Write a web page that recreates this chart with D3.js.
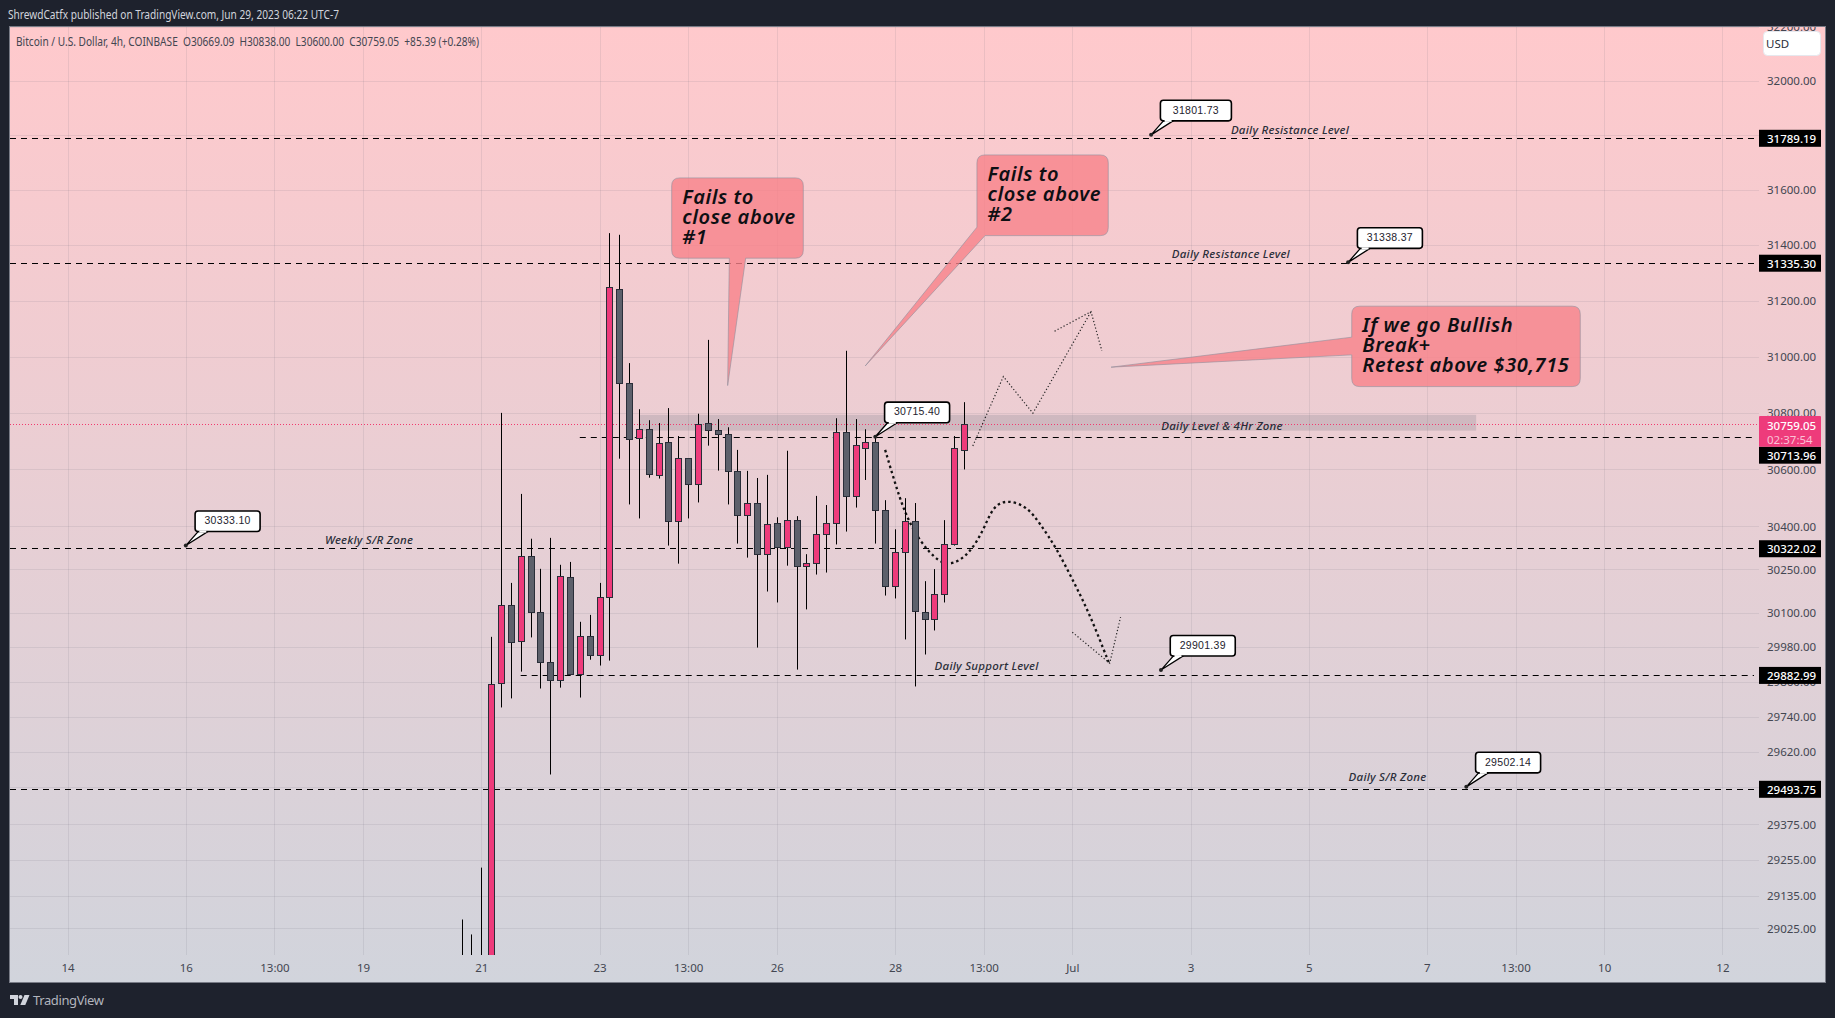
<!DOCTYPE html>
<html><head><meta charset="utf-8">
<script src="https://cdnjs.cloudflare.com/ajax/libs/d3/7.8.5/d3.min.js"></script>
<style>html,body{margin:0;padding:0;background:#1e222d;overflow:hidden}svg{display:block}</style>
</head><body><svg id="c" width="1835" height="1018"></svg>
<script>
const FONT = '"Noto Sans", sans-serif';
const opens  = [28700,28720,28700,28710,29856,30126,30001,30296,30101,29929,29867,30223,29887,30018,29953,30153,31242,30906,30710,30742,30580,30696,30418,30640,30548,30764,30739,30725,30594,30439,30482,30303,30411,30328,30422,30261,30272,30373,30411,30732,30506,30675,30696,30457,30192,30310,30418,30101,30077,30164,30338,30669.09];
const highs  = [29055,29005,29229,30016,30800,30203,30514,30357,30252,30360,30266,30276,30068,30092,30203,31444,31438,30977,30813,30774,30764,30817,30718,30640,30797,31060,30778,30749,30669,30595,30570,30581,30432,30666,30436,30303,30507,30475,30781,31021,30778,30742,30715.40,30492,30390,30499,30482,30209,30251,30422,30718,30838];
const lows   = [28650,28650,28650,28650,29773,29804,29896,30014,29838,29544,29841,29884,29807,29937,29917,29934,30638,30477,30428,30571,30568,30333,30270,30428,30484,30684,30596,30477,30340,30291,29979,30173,30135,30263,29903,30111,30232,30239,30337,30382,30466,30563,30340,30159,30149,30007,29845,29955,30038,30135,30333,30600];
const closes = [28720,28700,28710,29853,30126,29998,30296,30101,29929,29867,30226,29887,30018,29953,30153,31249,30906,30707,30742,30584,30693,30418,30640,30548,30760,30739,30725,30594,30439,30482,30303,30408,30328,30422,30261,30272,30373,30411,30732,30506,30686,30696,30457,30192,30310,30418,30105,30077,30164,30338,30675,30759.05];
const firstBar = -2;

const priceTicks = [32200,32000,31800,31600,31400,31200,31000,30800,30600,30400,30250,30100,29980,29860,29740,29620,29500,29375,29255,29135,29025];
const hiddenTickLabels = [31800,29500];
const timeTickBars = [-42,-30,-21,-12,0,12,21,30,42,51,60,72,84,96,105,114,126];
const timeTickLabels = ["14","16","13:00","19","21","23","13:00","26","28","13:00","Jul","3","5","7","13:00","10","12"];

const levelPrices = [31789.19,31335.30,30713.96,30322.02,29882.99,29493.75];
const levelStartBars = [null,null,10,null,4,null];
const levelTagShift = [0,0,18,0,0,0];

const levelTexts = ["Daily Resistance Level","Daily Resistance Level","Daily Level & 4Hr Zone","Weekly S/R Zone","Daily Support Level","Daily S/R Zone"];
const levelTextBars = [82.1,76.1,75.2,-11.4,51.3,92];
const levelTextPrices = [31823,31369,30754,30355,29916,29536];

const markerPrices = [31801.73,31338.37,30715.40,30333.10,29901.39,29502.14];
const markerBars = [68,88,40,-30,69,100];
const markerWidths = [71,65,65,65,65,65];

const zoneBars = [16,101];
const zonePrices = [30793,30737];
const lastPrice = 30759.05;
const countdown = "02:37:54";

const curveBars   = [41,42,43,44.5,46.5,47.9,49.6,51,52,53.5,55.4,56.7,58.4,60.3,61.8,63.8];
const curvePrices = [30669,30552,30446,30347,30272,30266,30306,30388,30475,30493,30470,30411,30324,30196,30092,29919];
const headDownBars   = [60,63.8,64.9];
const headDownPrices = [30032,29925,30084];
const zigzagBars   = [49.9,53,56,61.9];
const zigzagPrices = [30683,30929,30799,31161];
const headUpBars   = [58.2,61.9,63];
const headUpPrices = [31091,31161,31021];

const calloutLines = [["Fails to","close above","#1"],["Fails to","close above","#2"],["If we go Bullish","Break+","Retest above $30,715"]];
const calloutBoxBars = [[19.33,32.69],[50.32,63.65],[88.37,111.57]];
const calloutBoxPrices = [[31644.6,31353.4],[31728.4,31435],[31180.7,30893.4]];
const calloutTipBars = [25.01,38.98,63.93];
const calloutTipPrices = [30897,30967,30962.5];
const calloutBaseBars = [[25.18,26.84],[50.32,51.14],[88.37,88.37]];
const calloutBasePrices = [[31353.4,31353.4],[31465.6,31435],[31069.6,31006.4]];

const W=1835,H=1018,L=10,R=1825,T=27,B=982,PB=955,AX=1759;
const x = d3.scaleLinear().domain([0,100]).range([481.3,1466.3]);
const y = d3.scaleLog().domain([31789.19,29493.75]).range([138.3,789.3]);
const px = k => Math.round(x(k))+0.5;
const py = p => Math.round(y(p))+0.5;
const ly = p => Math.floor(y(p))+0.5;

const svg = d3.select("#c").attr("font-family",FONT);
const defs = svg.append("defs");
const g = defs.append("linearGradient").attr("id","bg").attr("x1",0).attr("y1",0).attr("x2",0).attr("y2",1);
g.append("stop").attr("offset","0%").attr("stop-color","#ffc9cc");
g.append("stop").attr("offset","100%").attr("stop-color","#d1d4dc");
defs.append("clipPath").attr("id","frame").append("rect").attr("x",L).attr("y",T).attr("width",R-L).attr("height",B-T);
defs.append("clipPath").attr("id","pane").append("rect").attr("x",L).attr("y",T).attr("width",R-L).attr("height",PB-T);

svg.append("rect").attr("width",W).attr("height",H).attr("fill","#1e222d");
svg.append("rect").attr("x",L-0.5).attr("y",T-0.5).attr("width",R-L+1).attr("height",B-T+1).attr("fill","url(#bg)").attr("stroke","#787b86");

const pane = svg.append("g").attr("clip-path","url(#pane)");
const chart = svg.append("g").attr("clip-path","url(#frame)");

// grid
pane.append("g").selectAll("line").data(priceTicks).join("line")
  .attr("x1",L).attr("x2",AX).attr("y1",py).attr("y2",py)
  .attr("stroke","#6a6d7d").attr("stroke-opacity",0.13);
pane.append("g").selectAll("line").data(timeTickBars).join("line")
  .attr("x1",px).attr("x2",px).attr("y1",T).attr("y2",PB)
  .attr("stroke","#6a6d7d").attr("stroke-opacity",0.13);

// zone
pane.append("rect").attr("x",x(zoneBars[0])).attr("width",x(zoneBars[1])-x(zoneBars[0]))
  .attr("y",y(zonePrices[0])).attr("height",y(zonePrices[1])-y(zonePrices[0]))
  .attr("fill","#787b86").attr("fill-opacity",0.25);

// levels
levelPrices.forEach((p,i)=>{
  pane.append("line").attr("x1",levelStartBars[i]===null?L:x(levelStartBars[i])).attr("x2",1754)
    .attr("y1",ly(p)).attr("y2",ly(p)).attr("stroke","#000").attr("stroke-width",1).attr("stroke-dasharray","6 5");
});
// last price
pane.append("line").attr("x1",L).attr("x2",AX).attr("y1",py(lastPrice)).attr("y2",py(lastPrice))
  .attr("stroke","#f23a6f").attr("stroke-dasharray","1 2");

// drawings beneath candles
const line = d3.line().x(d=>x(d[0])).y(d=>y(d[1]));
pane.append("path").attr("d",line.curve(d3.curveBasis)(curveBars.map((b,i)=>[b,curvePrices[i]])))
  .attr("fill","none").attr("stroke","#111").attr("stroke-width",2.3).attr("stroke-dasharray","2.5 3");
line.curve(d3.curveLinear);
[[headDownBars,headDownPrices],[zigzagBars,zigzagPrices],[headUpBars,headUpPrices]].forEach(([b,p])=>{
  pane.append("path").attr("d",line(b.map((v,i)=>[v,p[i]])))
    .attr("fill","none").attr("stroke","#222").attr("stroke-width",1.2).attr("stroke-dasharray","1.2 2.2");
});

// candles
const idx = d3.range(opens.length);
const cg = pane.append("g");
cg.selectAll("line").data(idx).join("line")
  .attr("x1",i=>px(i+firstBar)).attr("x2",i=>px(i+firstBar))
  .attr("y1",i=>y(highs[i])).attr("y2",i=>y(lows[i]))
  .attr("stroke","#000").attr("stroke-width",1);
cg.selectAll("rect").data(idx).join("rect")
  .attr("x",i=>px(i+firstBar)-3).attr("width",6)
  .attr("y",i=>py(Math.max(opens[i],closes[i])))
  .attr("height",i=>Math.max(1,py(Math.min(opens[i],closes[i]))-py(Math.max(opens[i],closes[i]))))
  .attr("fill",i=>closes[i]>=opens[i]?"#ee3b7b":"#5d606b")
  .attr("stroke","#2a2e39").attr("stroke-width",1);

// level texts
levelTexts.forEach((t,i)=>{
  pane.append("text").text(t).attr("x",x(levelTextBars[i])).attr("y",y(levelTextPrices[i]))
    .attr("text-anchor","middle").attr("dominant-baseline","central")
    .attr("font-size",11.5).attr("letter-spacing",0.25).attr("font-style","italic").attr("font-weight",500).attr("fill","#2a2e39");
});

// callouts
calloutLines.forEach((lines,i)=>{
  const [bl,br]=calloutBoxBars[i], [pt,pb]=calloutBoxPrices[i];
  const x0=x(bl),x1=x(br),y0=y(pt),y1=y(pb),r=8;
  const tip=[x(calloutTipBars[i]),y(calloutTipPrices[i])];
  const a=[x(calloutBaseBars[i][0]),y(calloutBasePrices[i][0])];
  const b=[x(calloutBaseBars[i][1]),y(calloutBasePrices[i][1])];
  let d;
  if(i===0){ d=`M${x0+r} ${y0}H${x1-r}Q${x1} ${y0} ${x1} ${y0+r}V${y1-r}Q${x1} ${y1} ${x1-r} ${y1}H${b[0]}L${tip[0]} ${tip[1]}L${a[0]} ${y1}H${x0+r}Q${x0} ${y1} ${x0} ${y1-r}V${y0+r}Q${x0} ${y0} ${x0+r} ${y0}Z`; }
  else if(i===1){ d=`M${x0+r} ${y0}H${x1-r}Q${x1} ${y0} ${x1} ${y0+r}V${y1-r}Q${x1} ${y1} ${x1-r} ${y1}H${b[0]}L${tip[0]} ${tip[1]}L${a[0]} ${a[1]}V${y0+r}Q${x0} ${y0} ${x0+r} ${y0}Z`; }
  else { d=`M${x0+r} ${y0}H${x1-r}Q${x1} ${y0} ${x1} ${y0+r}V${y1-r}Q${x1} ${y1} ${x1-r} ${y1}H${x0+r}Q${x0} ${y1} ${x0} ${y1-r}V${b[1]}L${tip[0]} ${tip[1]}L${a[0]} ${a[1]}V${y0+r}Q${x0} ${y0} ${x0+r} ${y0}Z`; }
  pane.append("path").attr("d",d).attr("fill","#f7828a").attr("fill-opacity",0.8).attr("stroke","#8f8f9c").attr("stroke-opacity",0.6);
  lines.forEach((t,j)=>{
    pane.append("text").text(t).attr("x",x0+10.6).attr("y",y0+26+j*20)
      .attr("font-size",20).attr("letter-spacing",0.6).attr("font-style","italic").attr("font-weight",600).attr("fill","#0e0f13");
  });
});

// markers
markerPrices.forEach((p,i)=>{
  const tx=x(markerBars[i]),ty=y(p),bx=tx+9.3,by=ty-34.6,bw=markerWidths[i],bh=20.6;
  const m=pane.append("g");
  m.append("path").attr("d",`M${tx} ${ty}L${tx+12.3} ${by+bh}L${tx+22} ${by+bh}Z`).attr("fill","#fff").attr("stroke","#000").attr("stroke-width",1.3);
  m.append("rect").attr("x",bx).attr("y",by).attr("width",bw).attr("height",bh).attr("rx",3).attr("fill","#fff").attr("stroke","#000").attr("stroke-width",1.6);
  m.append("line").attr("x1",tx+13.5).attr("x2",tx+20.5).attr("y1",by+bh).attr("y2",by+bh).attr("stroke","#fff").attr("stroke-width",2);
  m.append("circle").attr("cx",tx).attr("cy",ty).attr("r",2).attr("fill","#222");
  m.append("text").text(p.toFixed(2)).attr("x",bx+bw/2).attr("y",by+bh/2-1).attr("text-anchor","middle").attr("dominant-baseline","central")
    .attr("font-family",'"Liberation Sans",sans-serif').attr("font-size",10.5).attr("letter-spacing",0.3).attr("fill","#1e222d");
});

// price axis
const priceAxis = d3.axisRight(y).tickValues(priceTicks)
  .tickFormat(v=>hiddenTickLabels.includes(v)?"":d3.format(".2f")(v)).tickSize(0).tickPadding(0);
const ga = chart.append("g").attr("transform","translate(1767,0)").call(priceAxis);
ga.select(".domain").remove();
ga.selectAll("text").attr("font-family",FONT).attr("font-size",11.5).attr("fill","#434651").attr("x",0);

// time axis
const timeAxis = d3.axisBottom(x).tickValues(timeTickBars).tickFormat((d,i)=>timeTickLabels[i]).tickSize(0).tickPadding(0);
const gt = chart.append("g").attr("transform","translate(0,963)").call(timeAxis);
gt.select(".domain").remove();
gt.selectAll("text").attr("font-family",FONT).attr("font-size",11.5).attr("fill","#434651").attr("y",0).attr("dy","0.75em");

// USD box
chart.append("rect").attr("x",1763.5).attr("y",31.5).attr("width",57).attr("height",24).attr("rx",4).attr("fill","#fff").attr("stroke","#e6e8ee");
chart.append("text").text("USD").attr("x",1766).attr("y",43).attr("dominant-baseline","central").attr("font-size",11.5).attr("fill","#2a2e39");

// level tags
levelPrices.forEach((p,i)=>{
  const c=y(p)+levelTagShift[i];
  chart.append("rect").attr("x",1759).attr("y",c-8.5).attr("width",62).attr("height",17).attr("fill","#000");
  chart.append("text").text(p.toFixed(2)).attr("x",1767).attr("y",c).attr("dominant-baseline","central")
    .attr("font-size",11.5).attr("font-weight",500).attr("fill","#fff");
});
// last price tag
chart.append("rect").attr("x",1759).attr("y",416).attr("width",62).attr("height",30.7).attr("rx",1).attr("fill","#ee3b7b");
chart.append("text").text(lastPrice.toFixed(2)).attr("x",1767).attr("y",425).attr("dominant-baseline","central").attr("font-size",11.5).attr("font-weight",500).attr("fill","#fff");
chart.append("text").text(countdown).attr("x",1767).attr("y",439).attr("dominant-baseline","central").attr("font-size",11.5).attr("fill","#fbc2d6");

// legend
chart.append("text").text("Bitcoin / U.S. Dollar, 4h, COINBASE  O30669.09  H30838.00  L30600.00  C30759.05  +85.39 (+0.28%)")
  .attr("xml:space","preserve").style("white-space","pre").attr("x",16).attr("y",41.5).attr("dominant-baseline","central")
  .attr("font-size",12).attr("fill","#434651").attr("textLength",463).attr("lengthAdjust","spacingAndGlyphs");

// header/footer
svg.append("text").text("ShrewdCatfx published on TradingView.com, Jun 29, 2023 06:22 UTC-7").attr("x",8).attr("y",14.5).attr("dominant-baseline","central")
  .attr("font-size",12).attr("fill","#d1d4dc").attr("textLength",331).attr("lengthAdjust","spacingAndGlyphs");
const logo = svg.append("g").attr("fill","#d1d4dc");
logo.append("path").attr("d","M10 995h8v10h-4v-6h-4z");
logo.append("circle").attr("cx",20.5).attr("cy",997).attr("r",2);
logo.append("path").attr("d","M24.5 995h5l-4.2 10h-5z");
svg.append("text").text("TradingView").attr("x",33).attr("y",1000).attr("dominant-baseline","central")
  .attr("font-size",13).attr("fill","#b2b5be").attr("textLength",71).attr("lengthAdjust","spacing");
</script></body></html>
